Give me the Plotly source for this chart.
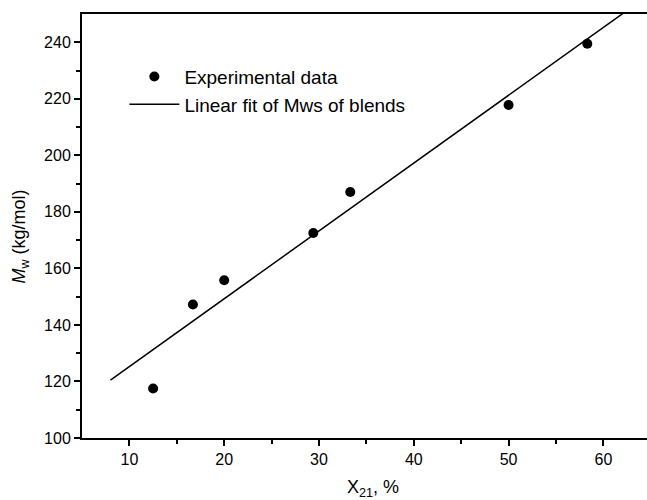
import numpy as np
import plotly.graph_objects as go

# Data
x_exp = [12.5, 16.7, 20.0, 29.4, 33.3, 50.0, 58.3]
mw_exp = [117.5, 147.2, 155.8, 172.5, 187.0, 217.8, 239.5]

# Extent of the linear fit line (x-values)
fit_x_range = [8, 65]

slope, intercept = np.polyfit(x_exp, mw_exp, 1)
fit_x = np.array(fit_x_range, dtype=float)
fit_y = slope * fit_x + intercept

font_family = "Liberation Sans, Arial, sans-serif"

fig = go.Figure()
fig.add_trace(go.Scatter(
    x=x_exp, y=mw_exp, mode="markers",
    marker=dict(color="black", size=10),
    name="Experimental data",
))
fig.add_trace(go.Scatter(
    x=fit_x, y=fit_y, mode="lines",
    line=dict(color="black", width=1.5),
    name="Linear fit of Mws of blends",
))

fig.update_layout(
    width=647, height=500,
    margin=dict(l=82, r=0, t=14, b=62),
    paper_bgcolor="white", plot_bgcolor="white",
    font=dict(family=font_family, size=16, color="black"),
    legend=dict(
        x=0.075, y=0.897, xanchor="left", yanchor="top",
        bgcolor="rgba(0,0,0,0)", font=dict(size=19),
        itemwidth=50, tracegroupgap=0,
    ),
    showlegend=True,
    annotations=[
        dict(text="<i>M</i><sub>w</sub> (kg/mol)", textangle=-90,
             xref="paper", yref="paper", x=-0.108, y=0.475,
             xanchor="center", yanchor="middle", showarrow=False,
             font=dict(size=18)),
        dict(text="X<sub>21</sub>, %",
             xref="paper", yref="paper", x=0.515, y=-0.118,
             xanchor="center", yanchor="middle", showarrow=False,
             font=dict(size=18)),
    ],
)
fig.update_xaxes(
    range=[5, 64.6], tickmode="array", tickvals=[10, 20, 30, 40, 50, 60],
    ticks="outside", ticklen=6, tickwidth=1.5, tickcolor="black",
    minor=dict(tickvals=[15, 25, 35, 45, 55], ticks="outside", ticklen=4,
               tickwidth=1.5, tickcolor="black"),
    showline=True, linecolor="black", linewidth=2, mirror=True,
    showgrid=False, zeroline=False,
    tickfont=dict(size=16),
)
fig.update_yaxes(
    range=[100, 250], tickmode="array",
    tickvals=[100, 120, 140, 160, 180, 200, 220, 240],
    ticks="outside", ticklen=6, tickwidth=1.5, tickcolor="black",
    minor=dict(tickvals=[110, 130, 150, 170, 190, 210, 230], ticks="outside",
               ticklen=4, tickwidth=1.5, tickcolor="black"),
    showline=True, linecolor="black", linewidth=2, mirror=False,
    showgrid=False, zeroline=False,
    tickfont=dict(size=16),
)

fig.write_html(
    "out.html",
    config={"displayModeBar": False},
    post_script="document.body.style.margin='0';document.body.style.overflow='hidden';",
)
